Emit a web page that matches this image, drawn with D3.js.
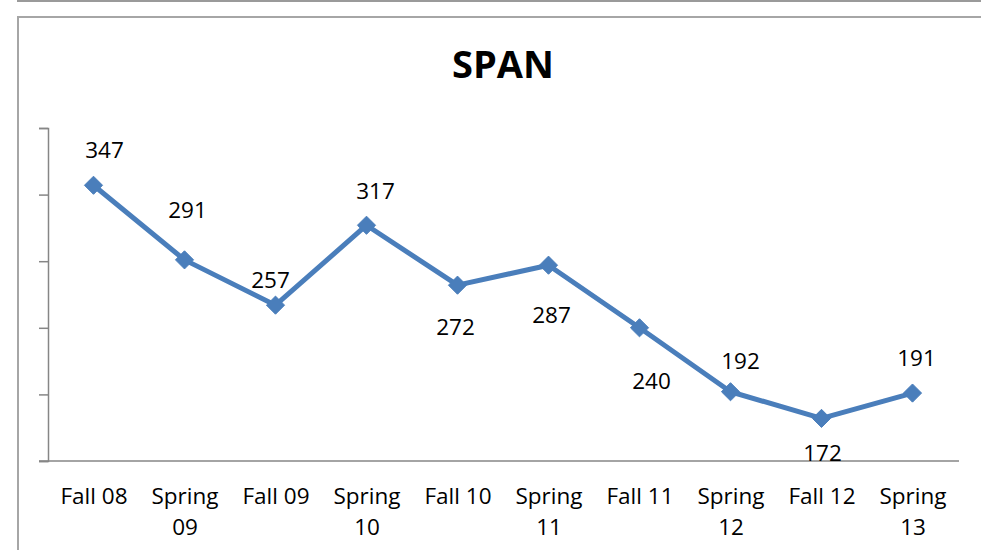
<!DOCTYPE html>
<html>
<head>
<meta charset="utf-8">
<script src="https://cdn.jsdelivr.net/npm/d3@7/dist/d3.min.js"></script>
<style>
  body { margin: 0; background: #fff; }
  svg text { font-family: "Open Sans", "Noto Sans", sans-serif; fill: #000; }
</style>
</head>
<body>
<div id="graphic"></div>
<script>
// Data
var categories = ["Fall 08", "Spring 09", "Fall 09", "Spring 10", "Fall 10",
                  "Spring 11", "Fall 11", "Spring 12", "Fall 12", "Spring 13"];
var values     = [347, 291, 257, 317, 272, 287, 240, 192, 172, 191];
var yTicks     = [140, 190, 240, 290, 340, 390];
var title      = "SPAN";

// Hand-placed data label offsets (label centre relative to point), as in the original
var labelOffsets = [[11, -27], [3, -42], [-5, -17], [9, -26], [-2, 50],
                    [3, 58], [12, 61], [10, -23], [1, 43], [4, -27]];

(function() {
  var
  W      = 981,
  H      = 550,
  margin = { top: 128, right: 23, bottom: 89, left: 48 },
  width  = W - margin.left - margin.right,
  height = H - margin.top - margin.bottom,
  blue   = "#4a7ebb"
  ;

  var svg = d3.select("#graphic").append("svg")
      .attr("width", W)
      .attr("height", H);

  // Outer frame (page + chart area border)
  svg.append("line")
    .attr("x1", 17).attr("x2", W).attr("y1", 1).attr("y2", 1)
    .attr("stroke", "#9a9a9a").attr("stroke-width", 2);
  svg.append("path")
    .attr("d", "M18," + H + "V17H" + W)
    .attr("fill", "none")
    .attr("stroke", "#a6a6a6").attr("stroke-width", 2);

  // Title
  svg.append("text")
    .attr("x", 503)
    .attr("y", 78)
    .attr("text-anchor", "middle")
    .style("font-size", "38px")
    .style("font-weight", "bold")
    .text(title);

  var g = svg.append("g")
    .attr("transform", "translate(" + margin.left + "," + margin.top + ")");

  var x = d3.scalePoint()
    .domain(categories)
    .range([0, width])
    .padding(0.5);

  var y = d3.scaleLinear()
    .domain([yTicks[0], yTicks[yTicks.length - 1]])
    .range([height, 0]);

  // Y axis: ticks only, no labels
  var yAxis = d3.axisLeft(y)
    .tickValues(yTicks)
    .tickSize(9)
    .tickFormat("");

  g.append("g")
    .attr("class", "axis y")
    .call(yAxis)
    .call(function(s) {
      s.select(".domain").attr("stroke", "#868686").attr("stroke-width", 1.5);
      s.selectAll(".tick line").attr("stroke", "#868686").attr("stroke-width", 1.5);
    });

  // X axis: baseline with wrapped category labels
  var xAxis = d3.axisBottom(x)
    .tickSize(0)
    .tickPadding(0);

  var xg = g.append("g")
    .attr("class", "axis x")
    .attr("transform", "translate(0," + height + ")")
    .call(xAxis);

  xg.select(".domain")
    .attr("d", "M-9,0H" + (width + 1))
    .attr("stroke", "#868686").attr("stroke-width", 1.5);

  xg.selectAll(".tick text")
    .style("font-size", "22.5px")
    .attr("y", 43)
    .attr("dy", 0)
    .call(wrap, x.step() - 6);

  // Line
  var line = d3.line()
    .x(function(d, i) { return x(categories[i]); })
    .y(function(d) { return y(d); });

  g.append("path")
    .datum(values)
    .attr("d", line)
    .attr("fill", "none")
    .attr("stroke", blue)
    .attr("stroke-width", 5)
    .attr("stroke-linejoin", "round");

  // Diamond markers
  var diamond = d3.symbol().type(d3.symbolDiamond2).size(210);

  g.selectAll("path.marker")
    .data(values)
    .enter().append("path")
    .attr("class", "marker")
    .attr("d", diamond)
    .attr("fill", blue)
    .attr("stroke", blue)
    .attr("stroke-width", 1)
    .attr("transform", function(d, i) {
      return "translate(" + x(categories[i]) + "," + y(d) + ")";
    });

  // Data labels
  g.selectAll("text.label")
    .data(values)
    .enter().append("text")
    .attr("class", "label")
    .attr("text-anchor", "middle")
    .style("font-size", "22.5px")
    .attr("x", function(d, i) { return x(categories[i]) + labelOffsets[i][0]; })
    .attr("y", function(d, i) { return y(d) + labelOffsets[i][1]; })
    .text(function(d) { return d; });

  // Word wrap for category labels
  function wrap(texts, maxWidth) {
    texts.each(function() {
      var text  = d3.select(this),
          words = text.text().split(/\s+/),
          yPos  = text.attr("y"),
          lineH = 31,
          row   = [],
          n     = 0,
          tspan = text.text(null).append("tspan").attr("x", 0).attr("y", yPos);

      words.forEach(function(w) {
        row.push(w);
        tspan.text(row.join(" "));
        if (tspan.node().getComputedTextLength() > maxWidth && row.length > 1) {
          row.pop();
          tspan.text(row.join(" "));
          row = [w];
          n++;
          tspan = text.append("tspan").attr("x", 0)
            .attr("y", +yPos + n * lineH).text(w);
        }
      });
    });
  }
})();
</script>
</body>
</html>
